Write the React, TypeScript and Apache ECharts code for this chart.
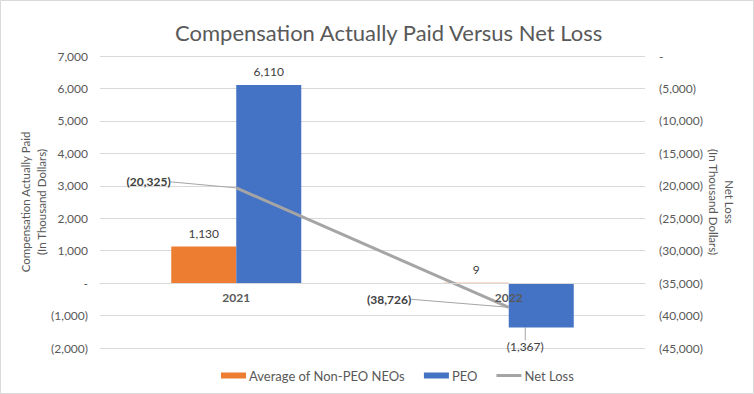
import React, { useEffect, useRef } from "react";
import * as echarts from "echarts";

const categories = ["2021", "2022"];
const nonPeoValues = [1130, 9];
const peoValues = [6110, -1367];
const netLossValues = [-20325, -38726];
const leftAxisRange = [-2000, 7000, 1000];
const rightAxisRange = [-45000, 0, 5000];

const fmt = (v: number) => {
  if (v === 0) return "-";
  const s = Math.abs(v).toLocaleString("en-US");
  return v < 0 ? `(${s})` : s;
};

const FONT = "Lato";
const GREY = "#595959";

export default function App() {
  const ref = useRef<HTMLDivElement>(null);
  useEffect(() => {
    if (!ref.current) return;
    const chart = echarts.init(ref.current, undefined, { renderer: "svg" });
    chart.setOption({
      animation: false,
      backgroundColor: "#ffffff",
      textStyle: { fontFamily: FONT },
      title: {
        text: "Compensation Actually Paid Versus Net Loss",
        left: 170,
        top: 16,
        textStyle: { fontFamily: FONT, fontSize: 22, fontWeight: "normal", color: GREY },
      },
      graphic: [
        {
          type: "rect",
          silent: true,
          z: -10,
          shape: { x: 0.5, y: 0.5, width: 753, height: 393 },
          style: { fill: "none", stroke: "#d9d9d9", lineWidth: 1 },
        },
      ],
      legend: {
        top: 364,
        left: 216,
        itemWidth: 25,
        itemHeight: 6,
        itemGap: 19,
        textStyle: { fontFamily: FONT, fontSize: 13, color: GREY, padding: [0, 0, 0, -2] },
        data: [
          { name: "Average of Non-PEO NEOs", icon: "rect" },
          { name: "PEO", icon: "rect" },
          { name: "Net Loss", icon: "path://M0,0H25V3H0Z" },
        ],
      },
      grid: { left: 100, right: 109, top: 56, bottom: 46 },
      xAxis: {
        type: "category",
        data: categories,
        offset: -65,
        z: 10,
        axisTick: { show: false },
        axisLine: { onZero: false, lineStyle: { color: "#d9d9d9" } },
        axisLabel: { fontFamily: FONT, fontSize: 12, fontWeight: "bold", color: GREY, margin: 8 },
      },
      yAxis: [
        {
          type: "value",
          min: leftAxisRange[0],
          max: leftAxisRange[1],
          interval: leftAxisRange[2],
          name: "Compensation Actually Paid\n(In Thousand Dollars)",
          nameLocation: "middle",
          nameRotate: 90,
          nameGap: 51,
          nameMoveOverlap: false,
          nameTextStyle: { fontFamily: FONT, fontSize: 11.5, color: GREY, lineHeight: 16 },
          axisLabel: { formatter: fmt, fontFamily: FONT, fontSize: 12, color: GREY, margin: 12 },
          splitLine: { lineStyle: { color: "#d9d9d9" } },
          axisLine: { show: false },
          axisTick: { show: false },
        },
        {
          type: "value",
          min: rightAxisRange[0],
          max: rightAxisRange[1],
          interval: rightAxisRange[2],
          position: "right",
          name: "Net Loss\n(In Thousand Dollars)",
          nameLocation: "middle",
          nameRotate: -90,
          nameGap: 60,
          nameMoveOverlap: false,
          nameTextStyle: { fontFamily: FONT, fontSize: 11.5, color: GREY, lineHeight: 16 },
          axisLabel: { formatter: fmt, fontFamily: FONT, fontSize: 12, color: GREY, margin: 14 },
          splitLine: { show: false },
          axisLine: { show: false },
          axisTick: { show: false },
        },
      ],
      series: [
        {
          name: "Average of Non-PEO NEOs",
          type: "bar",
          yAxisIndex: 0,
          data: nonPeoValues,
          barWidth: 65,
          barGap: "0%",
          itemStyle: { color: "#ed7d31" },
          label: {
            show: true,
            position: "top",
            distance: 7,
            formatter: (p: any) => fmt(p.value),
            fontFamily: FONT,
            fontSize: 12,
            color: "#404040",
          },
        },
        {
          name: "PEO",
          type: "bar",
          yAxisIndex: 0,
          data: peoValues.map((v) =>
            v < 0
              ? { value: v, label: { position: "bottom" }, labelLine: { show: true } }
              : v
          ),
          barWidth: 65,
          barGap: "0%",
          itemStyle: { color: "#4472c4" },
          label: {
            show: true,
            position: "top",
            distance: 7,
            formatter: (p: any) => fmt(p.value),
            fontFamily: FONT,
            fontSize: 12,
            color: "#404040",
          },
          labelLayout: (p: any) => (p.dataIndex === 1 ? { dx: -16, dy: 6 } : {}),
          labelLine: { lineStyle: { color: "#a5a5a5", width: 1 } },
        },
        {
          name: "Net Loss",
          type: "line",
          yAxisIndex: 1,
          data: netLossValues,
          symbol: "circle",
          symbolSize: 1,
          showSymbol: true,
          lineStyle: { color: "#a5a5a5", width: 3 },
          itemStyle: { color: "#a5a5a5" },
          z: 5,
          label: {
            show: true,
            position: "left",
            formatter: (p: any) => fmt(p.value),
            fontFamily: FONT,
            fontSize: 12,
            fontWeight: "bold",
            color: "#404040",
          },
          labelLayout: (p: any) =>
            p.dataIndex === 0 ? { dx: -60, dy: -6 } : { dx: -92, dy: -8 },
          labelLine: { show: true, lineStyle: { color: "#a5a5a5", width: 1 } },
        },
      ],
    });
    return () => chart.dispose();
  }, []);
  return (
    <div
      ref={ref}
      style={{ position: "absolute", left: 0, top: 0, width: 754, height: 394 }}
    />
  );
}
